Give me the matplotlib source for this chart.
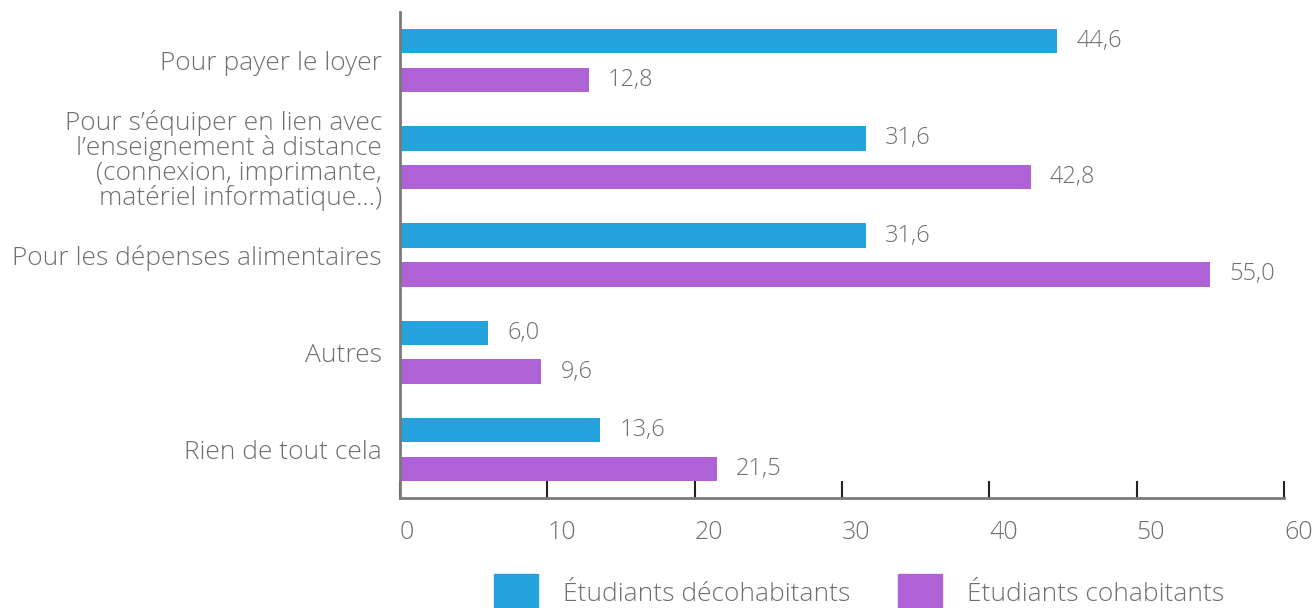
import matplotlib.pyplot as plt
import numpy as np
from matplotlib.patches import Patch

plt.rcParams['font.family'] = ['Open Sans', 'DejaVu Sans']

categories = [
    'Pour payer le loyer',
    'Pour s\u2019\u00e9quiper en lien avec\nl\u2019enseignement \u00e0 distance\n(connexion, imprimante,\nmat\u00e9riel informatique\u2026)',
    'Pour les d\u00e9penses alimentaires',
    'Autres',
    'Rien de tout cela',
]
decohabitants = [44.6, 31.6, 31.6, 6.0, 13.6]
cohabitants = [12.8, 42.8, 55.0, 9.6, 21.5]
series_names = ['\u00c9tudiants d\u00e9cohabitants', '\u00c9tudiants cohabitants']
xticks = [0, 10, 20, 30, 40, 50, 60]

blue = '#24A3DD'
purple = '#AE62D6'
text_gray = '#6f6f6f'

fig = plt.figure(figsize=(13.13, 6.08), dpi=100)
ax = fig.add_axes([400 / 1313, 1 - 498 / 608, 884 / 1313, 486 / 608])

y = np.arange(len(categories))
h = 0.25
b1 = ax.barh(y - 0.2, decohabitants, height=h, color=blue)
b2 = ax.barh(y + 0.2, cohabitants, height=h, color=purple)

fmt = lambda v: f'{v:.1f}'.replace('.', ',')
for bars, vals in ((b1, decohabitants), (b2, cohabitants)):
    ax.bar_label(bars, labels=[fmt(v) for v in vals], padding=14,
                 fontsize=17, color=text_gray, fontweight='light')

ax.set_xlim(0, 60)
ax.set_ylim(4.5, -0.5)
ax.set_yticks(y)
ax.set_yticklabels(categories, fontsize=19, color=text_gray,
                   fontweight='light', linespacing=0.98)
ax.set_xticks(xticks)
ax.set_xticklabels([str(t) for t in xticks], fontsize=18, color=text_gray,
                   fontweight='light', ha='left')

for s in ('top', 'right'):
    ax.spines[s].set_visible(False)
for s in ('left', 'bottom'):
    ax.spines[s].set_color('#7a7a7a')
    ax.spines[s].set_linewidth(2)
ax.tick_params(axis='y', length=0, pad=13)
ax.tick_params(axis='x', direction='in', length=12, width=1.5,
               color='#222222', pad=16)

handles = [Patch(color=blue), Patch(color=purple)]
fig.legend(handles, series_names, loc='center left',
           bbox_to_anchor=(494 / 1313, 1 - 592 / 608), ncol=2, frameon=False,
           borderpad=0, borderaxespad=0,
           handlelength=1.67, handleheight=1.67,
           handletextpad=0.95, columnspacing=1.8,
           labelcolor=text_gray, prop={'weight': 'light', 'size': 19})

fig.savefig('out.png', dpi=100)
